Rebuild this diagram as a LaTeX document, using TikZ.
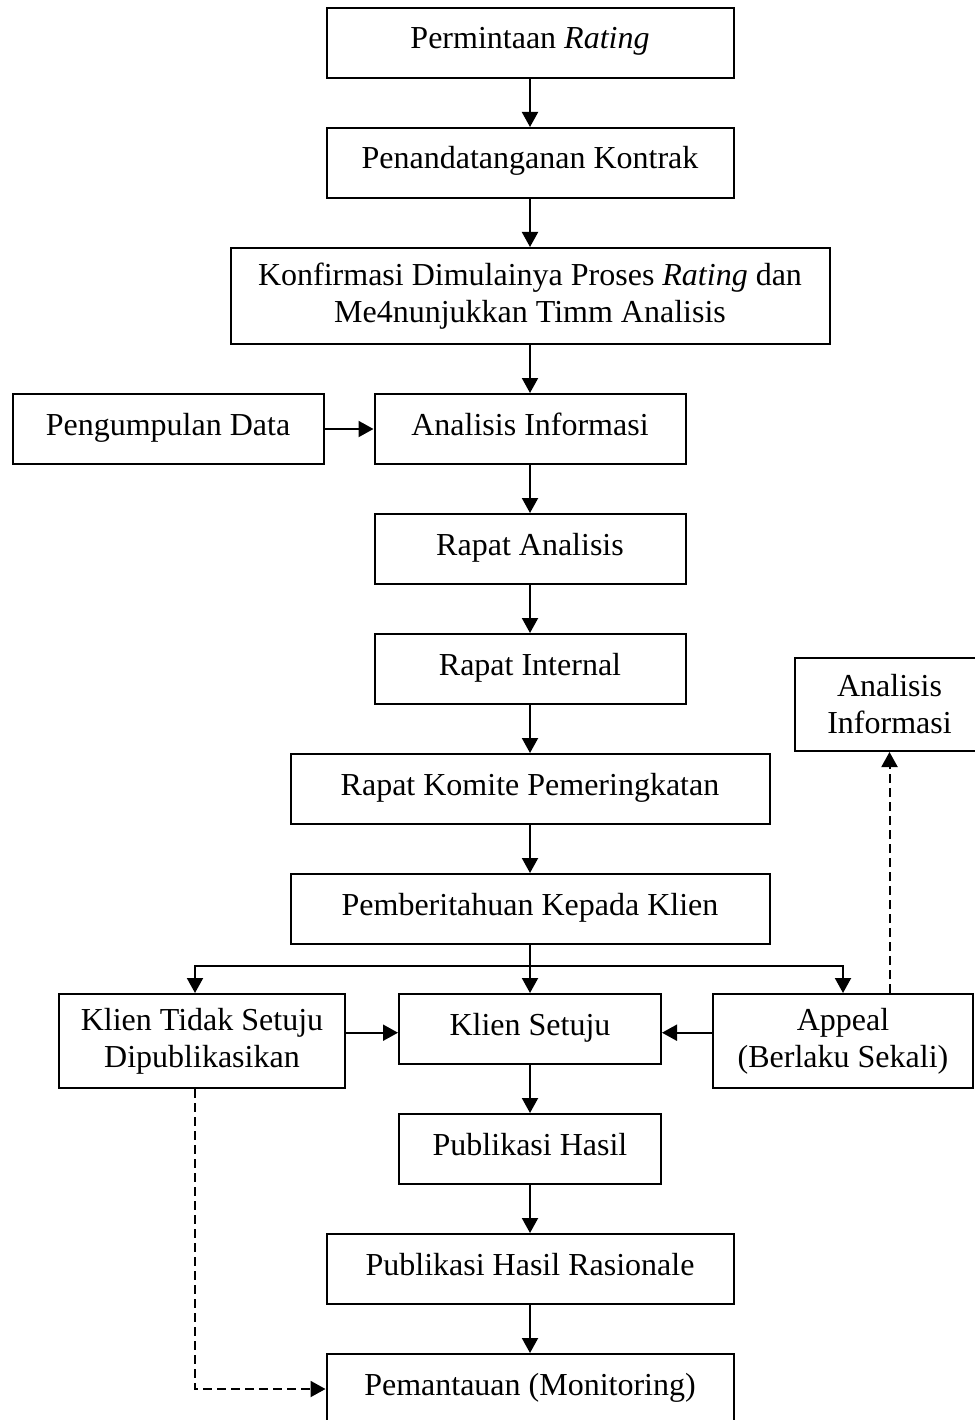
\documentclass[tikz,border=0pt]{standalone}
\usepackage{fontspec}
\setmainfont{Liberation Serif}
\usetikzlibrary{positioning}
\usetikzlibrary{arrows.meta}
\usetikzlibrary{calc}

\begin{document}
\begin{tikzpicture}[
    x=1pt, y=-1pt,
    line width=2pt,
    node distance=48pt,
    box/.style={draw, font=\fontsize{32}{37}\selectfont, minimum height=70pt, text height=24pt, text depth=12pt, inner sep=0pt},
    tallbox/.style={draw, font=\fontsize{32}{37}\selectfont, align=center, minimum height=94pt, inner sep=0pt},
    arr/.style={-{Triangle[length=15pt,width=16pt]}},
    dasharr/.style={arr, dash pattern=on 9pt off 5pt}
]
    \useasboundingbox (0,0) rectangle (974,1420);

    % Main flow
    \node[box, minimum width=407pt] (PR) at (530,43) {Permintaan \textit{Rating}};
    \node[box, minimum width=407pt, below=of PR] (PK) {Penandatanganan Kontrak};
    \node[tallbox, minimum width=599pt, minimum height=96pt, below=of PK] (KP) {Konfirmasi Dimulainya Proses \textit{Rating} dan\\Me4nunjukkan Timm Analisis};
    \node[box, minimum width=311pt, below=of KP] (AI) {Analisis Informasi};
    \node[box, minimum width=311pt, left=49pt of AI] (PD) {Pengumpulan Data};
    \node[box, minimum width=311pt, below=of AI] (RA) {Rapat Analisis};
    \node[box, minimum width=311pt, below=of RA] (RI) {Rapat Internal};
    \node[box, minimum width=479pt, below=of RI] (RK) {Rapat Komite Pemeringkatan};
    \node[box, minimum width=479pt, below=of RK] (PKK) {Pemberitahuan Kepada Klien};

    % Client decision
    \node[box, minimum width=262pt, below=of PKK] (KS) {Klien Setuju};
    \node[tallbox, minimum width=286pt, left=52pt of KS.north west, anchor=north east] (KTS) {Klien Tidak Setuju\\Dipublikasikan};
    \node[tallbox, minimum width=260pt, right=50pt of KS.north east, anchor=north west] (AP) {Appeal\\(Berlaku Sekali)};
    \node[tallbox, minimum width=189pt, minimum height=93pt] (AI2) at (889.5,704.5) {Analisis\\Informasi};

    % Publication
    \node[box, minimum width=262pt, below=of KS] (PH) {Publikasi Hasil};
    \node[box, minimum width=407pt, below=of PH] (PHR) {Publikasi Hasil Rasionale};
    \node[box, minimum width=407pt, below=of PHR] (PM) {Pemantauan (Monitoring)};

    % Arrows
    \draw[arr] (PR) -- (PK);
    \draw[arr] (PK) -- (KP);
    \draw[arr] (KP) -- (AI);
    \draw[arr] (PD) -- (AI);
    \draw[arr] (AI) -- (RA);
    \draw[arr] (RA) -- (RI);
    \draw[arr] (RI) -- (RK);
    \draw[arr] (RK) -- (PKK);
    \draw[arr] (PKK) -- (KS);
    \coordinate (split) at ($(PKK.south)+(0,21)$);
    \coordinate (KTSx) at ($(KTS.north)+(-7,0)$);
    \draw[arr] (split) -| (KTSx);
    \draw[arr] (split) -| (AP.north);
    \draw[arr] (KTS.east |- KS.mid west) -- (KS.mid west);
    \draw[arr] (AP.west |- KS.mid east) -- (KS.mid east);
    \draw[dasharr] (AP.north -| AI2.south) -- (AI2.south);
    \draw[arr] (KS) -- (PH);
    \draw[arr] (PH) -- (PHR);
    \draw[arr] (PHR) -- (PM);
    \draw[dasharr] (KTSx |- KTS.south) |- (PM.west);
\end{tikzpicture}
\end{document}
